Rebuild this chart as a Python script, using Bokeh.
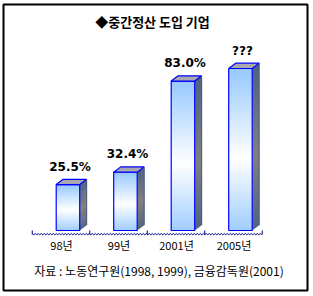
import numpy as np
from bokeh.plotting import figure
from bokeh.models import Range1d
from bokeh.core.properties import value
from bokeh.embed import file_html
from bokeh.resources import INLINE

# ---- data ----
title_text = "◆중간정산 도입 기업"
categories = ["98년", "99년", "2001년", "2005년"]
values = [25.5, 32.4, 83.0, 90.0]
value_labels = ["25.5%", "32.4%", "83.0%", "???"]
source_text = "자료 : 노동연구원(1998, 1999), 금융감독원(2001)"

# ---- layout constants (canvas pixels) ----
W, H = 313, 296
FL, FT, FR, FB = 3, 4, 307, 290
CAT0 = 60.5
CATW = 57.5
BASE = 230.0
PPU = 1.8


def px2x(px):
    return (px - CAT0) / CATW


def px2y(py):
    return (BASE - py) / PPU


p = figure(width=W, height=H, output_backend="svg", toolbar_location=None,
           x_range=Range1d(px2x(FL), px2x(FR)),
           y_range=Range1d(px2y(FB), px2y(FT)),
           x_axis_location=None, y_axis_location=None,
           min_border_left=FL, min_border_top=FT,
           min_border_right=W - FR, min_border_bottom=H - FB)
p.grid.visible = False
p.outline_line_color = "black"
p.outline_line_width = 2
p.background_fill_color = "white"
p.border_fill_color = "white"

n = len(categories)
xc = np.arange(n, dtype=float)
off_l = -4.8 / CATW
off_r = 18.7 / CATW
dx = 7.0 / CATW
dy = 5.3 / PPU
vals = np.array(values, dtype=float)


def mix(c1, c2, t):
    return tuple(int(round(a + (b - a) * t)) for a, b in zip(c1, c2))


def hexc(c):
    return "#%02x%02x%02x" % c


front_top = (150, 200, 255)
front_bot = (160, 205, 255)
side_top = (78, 98, 130)
side_mid = (128, 128, 128)
side_bot = (82, 100, 130)
WMID = 0.45  # fraction from bottom where the face is lightest

N = 60
ql, qr, qb, qt, qc = [], [], [], [], []
sx, sy, sc = [], [], []
for i in range(n):
    L = xc[i] + off_l
    R = xc[i] + off_r
    v = vals[i]
    for k in range(N):
        t = (k + 0.5) / N
        if t < WMID:
            c = mix(front_bot, (255, 255, 255), t / WMID)
            cs = mix(side_bot, side_mid, t / WMID)
        else:
            c = mix((255, 255, 255), front_top, (t - WMID) / (1 - WMID))
            cs = mix(side_mid, side_top, (t - WMID) / (1 - WMID))
        y0 = v * k / N
        y1 = min(v, v * (k + 1.8) / N)
        ql.append(L); qr.append(R); qb.append(y0); qt.append(y1)
        qc.append(hexc(c))
        sx.append([R, R + dx, R + dx, R])
        sy.append([y0, y0 + dy, y1 + dy, y1])
        sc.append(hexc(cs))

p.patches(sx, sy, fill_color=sc, line_color=None)
p.quad(left=ql, right=qr, bottom=qb, top=qt, fill_color=qc, line_color=None)

# outlines
p.quad(left=xc + off_l, right=xc + off_r, bottom=np.zeros(n), top=vals,
       fill_color=None, line_color="#0000ff", line_width=1.2)
tx = [[xc[i] + off_l, xc[i] + off_r, xc[i] + off_r + dx, xc[i] + off_l + dx] for i in range(n)]
ty = [[vals[i], vals[i], vals[i] + dy, vals[i] + dy] for i in range(n)]
p.patches(tx, ty, fill_color="#a8a8ae", line_color="#0000ff", line_width=1.2)
rx = [[xc[i] + off_r + dx, xc[i] + off_r + dx] for i in range(n)]
ry = [[dy, vals[i] + dy] for i in range(n)]
p.multi_line(rx, ry, line_color="#4a5a78", line_width=1)

# wavy category axis
ax_px = np.arange(CAT0 - CATW / 2, CAT0 + CATW * (n - 0.5) + 0.01, 1.5)
ay_px = np.where(np.arange(len(ax_px)) % 2 == 0, 233.0, 234.3)
p.line([px2x(v) for v in ax_px], [px2y(v) for v in ay_px], line_color="#000080", line_width=1)
bx = [[px2x(CAT0 - CATW / 2 + j * CATW)] * 2 for j in range(n + 1)]
by = [[px2y(230), px2y(234)] for j in range(n + 1)]
p.multi_line(bx, by, line_color="#000080", line_width=1)

# value labels
p.text(x=xc + 9.0 / CATW, y=vals + 18.0 / PPU, text=value_labels,
       text_align="center", text_baseline="middle",
       text_font=value("DejaVu Sans"), text_font_style="bold",
       text_font_size="12px", text_color="black")

# category labels
p.text(x=xc + 0.5 / CATW, y=[px2y(244)] * n, text=categories,
       text_align="center", text_baseline="middle",
       text_font=value("Noto Sans CJK KR"), text_font_size="11px",
       text_color="black")

# title
p.text(x=[px2x(152)], y=[px2y(21)], text=[title_text],
       text_align="center", text_baseline="middle",
       text_font=value("Noto Sans CJK KR"), text_font_style="bold",
       text_font_size="13px", text_color="black")

# source
p.text(x=[px2x(158.5)], y=[px2y(270)], text=[source_text],
       text_align="center", text_baseline="middle",
       text_font=value("Noto Sans CJK KR"), text_font_size="12px",
       text_color="black")

open("out.html", "w").write(file_html(p, INLINE))
